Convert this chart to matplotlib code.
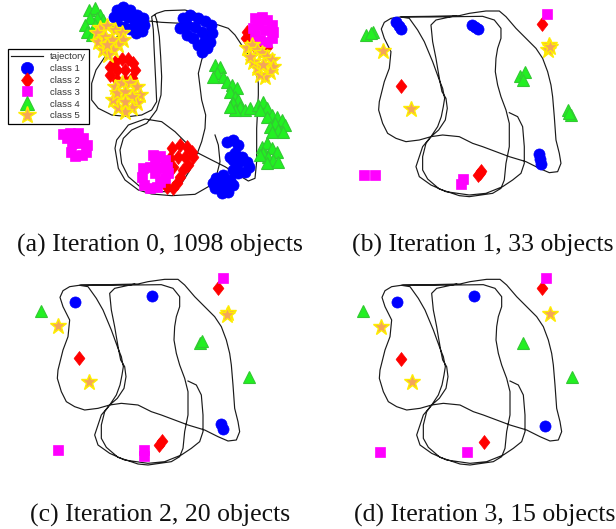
import numpy as np
import matplotlib
matplotlib.use('Agg')
from matplotlib import pyplot as plt

W, H = 616, 529

# trajectory after optimisation (iterations 1-3), picture units, y down
traj_x = [570, 595, 610, 615, 615, 605, 580, 550, 500, 450, 380, 335, 300, 290, 310, 335,
          370, 420, 460, 490, 530, 570, 620, 660, 690, 715, 725, 720, 710, 705, 700, 695,
          685, 670, 650, 620, 590, 560, 540, 500, 450, 420, 330, 250, 215, 195, 186, 195, 215,
          210, 195, 180, 178, 190, 205, 230, 260, 300, 335, 355, 366, 372, 376, 370, 360,
          340, 315, 295, 270, 245, 330, 410, 490, 525, 545, 545, 535, 530, 528, 535, 545,
          560, 570, 570, 560, 555, 545, 520, 450, 420, 360, 325, 310, 310, 320, 335, 358,
          378, 384, 380, 368, 362, 355, 350, 340, 335, 350, 410]
traj_y = [363, 375, 405, 465, 515, 545, 565, 585, 605, 610, 600, 580, 555, 525, 465, 435,
          430, 435, 455, 465, 480, 495, 510, 530, 543, 540, 515, 485, 445, 375, 315, 280,
          240, 200, 170, 140, 110, 75, 58, 58, 65, 72, 74, 75, 80, 92, 112, 140, 180,
          230, 270, 330, 355, 395, 425, 440, 450, 445, 435, 405, 375, 345, 320, 290, 265,
          210, 150, 115, 80, 76, 76, 75, 74, 85, 110, 140, 170, 200, 240, 280, 315,
          355, 395, 465, 515, 565, 590, 605, 615, 612, 592, 562, 535, 495, 455, 435, 415,
          385, 350, 320, 300, 270, 230, 200, 150, 100, 85, 72]

# raw trajectory (iteration 0)
traj0_x = [645, 655, 660, 650, 625, 585, 515, 455, 415, 375, 355, 345, 350, 385, 435, 485,
           525, 555, 590, 635, 675, 715, 745, 765, 770, 770, 775, 775, 765, 745, 725, 705,
           685, 655, 635, 545, 485, 435, 400, 375, 345, 315, 288, 275, 275, 295, 335, 385,
           425, 455, 470, 468, 465, 462, 460, 455, 470, 495, 555, 595, 620, 625, 615, 605,
           595, 600, 605, 617, 615, 605, 590, 570, 545, 510, 460, 420, 385, 365, 360, 370,
           395, 440, 470, 483, 485, 482, 478, 470, 465]
traj0_y = [405, 435, 485, 525, 560, 583, 587, 582, 570, 540, 505, 445, 420, 375, 357, 365,
           395, 425, 457, 480, 500, 525, 543, 535, 485, 385, 285, 250, 200, 165, 135, 105,
           85, 75, 70, 70, 67, 62, 45, 70, 120, 170, 210, 250, 300, 325, 345, 350,
           345, 330, 305, 260, 200, 140, 90, 50, 40, 32, 30, 42, 65, 100, 150, 180,
           220, 260, 300, 345, 385, 425, 465, 510, 550, 575, 575, 560, 530, 490, 450, 415,
           390, 370, 330, 285, 230, 170, 110, 60, 45]

# iteration 0, 1098 objects (read as dense clusters)
a_class1 = [(350, 30), (370, 22), (390, 30), (410, 45), (428, 55), (432, 75), (425, 92), (408, 100),
            (390, 88), (372, 80), (352, 72), (342, 52), (362, 45), (385, 52), (405, 65), (415, 80),
            (548, 55), (570, 45), (595, 55), (615, 62), (632, 75), (635, 100), (630, 125),
            (620, 145), (605, 155), (595, 135), (580, 115), (560, 105), (540, 85), (560, 75),
            (585, 80), (605, 95), (615, 120),
            (680, 425), (700, 420), (715, 435), (705, 460), (690, 470), (700, 480), (725, 470),
            (740, 485), (748, 500), (735, 515), (715, 520), (700, 510), (710, 495),
            (648, 535), (668, 525), (690, 540), (698, 555), (685, 575), (665, 580), (645, 565),
            (640, 548), (670, 555)]
a_class2 = [(330, 200), (345, 185), (365, 178), (385, 178), (400, 190), (405, 210), (395, 235),
            (375, 242), (350, 240), (330, 225), (350, 210), (375, 210),
            (740, 95), (738, 115), (750, 130), (765, 140), (785, 145), (800, 140),
            (515, 445), (540, 435), (560, 440), (575, 455), (580, 470), (565, 495), (550, 510),
            (540, 530), (530, 550), (520, 565), (500, 560), (490, 540), (505, 520), (520, 500),
            (510, 475), (535, 470), (555, 470)]
a_class3 = [(765, 55), (785, 50), (800, 60), (815, 75), (820, 95), (815, 115), (800, 125),
            (780, 120), (765, 105), (760, 85), (775, 75), (795, 90),
            (190, 402), (210, 398), (235, 400), (250, 415), (262, 435), (258, 455), (245, 465),
            (225, 468), (212, 455), (215, 430), (200, 415), (235, 430),
            (460, 465), (480, 468), (495, 480), (500, 500), (505, 520), (495, 535), (480, 545),
            (470, 560), (450, 565), (432, 555), (425, 530), (430, 505), (450, 500), (465, 520),
            (478, 505), (465, 485)]
a_class4 = [(268, 30), (285, 25), (300, 45), (310, 60), (290, 55), (270, 55), (255, 75), (260, 95),
            (275, 105), (295, 85), (285, 75),
            (645, 195), (660, 200), (652, 220), (668, 230), (640, 230), (680, 245), (695, 255),
            (710, 265), (690, 275), (705, 290), (715, 300), (700, 310), (720, 320), (735, 330),
            (750, 325), (705, 330), (690, 320),
            (775, 315), (790, 305), (800, 325), (780, 330), (815, 345), (800, 350), (830, 350),
            (845, 360), (825, 370), (855, 375), (810, 380), (835, 390), (850, 395), (815, 395),
            (785, 440), (800, 430), (815, 445), (790, 460), (830, 455), (805, 470), (780, 465),
            (820, 480), (800, 490), (835, 485)]
a_class5 = [(300, 85), (320, 78), (345, 90), (365, 100), (370, 120), (355, 135), (340, 150),
            (325, 165), (310, 150), (295, 125), (290, 100), (315, 110), (335, 120), (320, 135),
            (345, 262), (365, 250), (390, 250), (410, 262), (420, 285), (410, 310), (395, 325),
            (375, 335), (355, 325), (340, 300), (350, 280), (375, 275), (395, 290), (375, 305),
            (740, 145), (755, 135), (770, 150), (785, 160), (800, 170), (815, 180), (820, 200),
            (810, 215), (795, 230), (780, 225), (770, 205), (760, 185), (750, 170), (790, 195)]

# iteration 1, 33 objects
b_class1 = [(230, 90), (238, 102), (246, 113), (457, 100), (467, 105), (477, 112),
            (660, 487), (663, 503), (665, 517)]
b_class2 = [(669, 97), (245, 282), (477, 550), (485, 537), (481, 543)]
b_class3 = [(684, 67), (135, 550), (167, 550), (430, 562), (425, 577)]
b_class4 = [(140, 130), (162, 120), (154, 125), (602, 253), (617, 240), (610, 265),
            (747, 355), (754, 370), (750, 363)]
b_class5 = [(192, 178), (689, 160), (687, 175), (692, 167), (274, 353)]

# iteration 2, 20 objects
c_class1 = [(231, 125), (461, 108), (669, 492), (674, 507)]
c_class2 = [(661, 85), (243, 295), (484, 555), (492, 543)]
c_class3 = [(674, 53), (181, 570), (439, 570), (439, 588)]
c_class4 = [(129, 152), (606, 250), (613, 244), (754, 350)]
c_class5 = [(181, 197), (689, 160), (686, 164), (274, 365)]

# iteration 3, 15 objects
d_class1 = [(232, 127), (462, 108), (675, 497)]
d_class2 = [(665, 85), (242, 297), (493, 546)]
d_class3 = [(678, 53), (180, 575), (442, 577)]
d_class4 = [(128, 152), (610, 250), (757, 350)]
d_class5 = [(182, 200), (690, 163), (275, 367)]

labels = ['tajectory', 'class 1', 'class 2', 'class 3', 'class 4', 'class 5']
captions = ['(a) Iteration 0, 1098 objects', '(b) Iteration 1, 33 objects',
            '(c) Iteration 2, 20 objects', '(d) Iteration 3, 15 objects']

diamond = [(0, 1), (0.78, 0), (0, -1), (-0.78, 0), (0, 1)]
styles = [
    dict(marker='o', ms=8, mfc='#0000ff', mec='#0000ff', mew=0.5),
    dict(marker=diamond, ms=10, mfc='#ff0000', mec='#ff0000', mew=0.5),
    dict(marker='s', ms=6.6, mfc='#ff00ff', mec='#ff00ff', mew=0.5),
    dict(marker='^', ms=9, mfc='#22f022', mec='#33c833', mew=0.8),
    dict(marker='*', ms=12, mfc='#f4a55a', mec='#ffee00', mew=1.0),
]


def make_ax(fig, left, top, w, h, u0, v0):
    ax = fig.add_axes([left / W, 1 - (top + h) / H, w / W, h / H])
    ax.set_xlim(u0, u0 + 3 * w)
    ax.set_ylim(v0 + 3 * h, v0)
    ax.axis('off')
    return ax


def draw_panel(ax, tx, ty, classes):
    handles = [ax.plot(tx, ty, color='#1a1a1a', lw=0.85, zorder=1)[0]]
    for pts, st in zip(classes, styles):
        xs = [p[0] for p in pts]
        ys = [p[1] for p in pts]
        handles.append(ax.plot(xs, ys, ls='none', zorder=2, clip_on=False, **st)[0])
    return handles


fig = plt.figure(figsize=(W / 100, H / 100), dpi=100)

ax_a = make_ax(fig, 0, 0, 310, 200, 0, 0)
ax_b = make_ax(fig, 319.3, 0, 296.7, 200, 0, 25)
ax_c = make_ax(fig, 0, 260, 310, 210, 6, 0)
ax_d = make_ax(fig, 320, 260, 296, 210, 0, 0)

hs = draw_panel(ax_a, traj0_x, traj0_y, [a_class1, a_class2, a_class3, a_class4, a_class5])
draw_panel(ax_b, traj_x, traj_y, [b_class1, b_class2, b_class3, b_class4, b_class5])
draw_panel(ax_c, traj_x, traj_y, [c_class1, c_class2, c_class3, c_class4, c_class5])
draw_panel(ax_d, traj_x, traj_y, [d_class1, d_class2, d_class3, d_class4, d_class5])

leg = fig.legend(hs, labels, loc='upper left', bbox_to_anchor=(8 / W, 1 - 49 / H),
                 prop=dict(family='Liberation Sans', size=6.8), labelspacing=0.3,
                 handlelength=3.4, handletextpad=0.7, borderpad=0.35, borderaxespad=0,
                 fancybox=False, framealpha=1, edgecolor='black', numpoints=1,
                 markerscale=1.1)
leg.get_frame().set_linewidth(0.9)
for t in leg.get_texts():
    t.set_color('#333333')

cap_pos = [(160, 245), (483, 245), (160, 515), (485, 515)]
for (cx, cy), txt in zip(cap_pos, captions):
    fig.text(cx / W, 1 - cy / H, txt, ha='center', va='center',
             family='Liberation Serif', size=18.5, color='#111111')

fig.savefig('out.png', dpi=100)
